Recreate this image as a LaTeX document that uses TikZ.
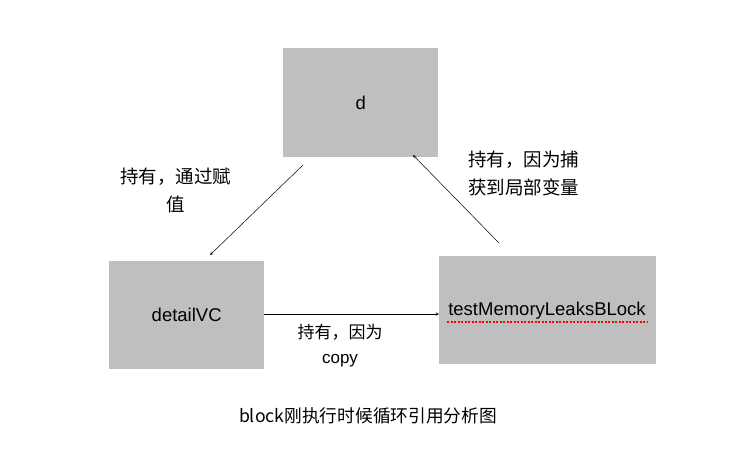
\documentclass[tikz,border=0pt]{standalone}
\usepackage{fontspec}
\setmainfont{Liberation Sans}
\newfontfamily\cjk{Noto Sans CJK SC}
\begin{document}
\begin{tikzpicture}[x=1pt,y=-1pt,
  box/.style={fill=boxgray,draw=none,inner sep=0,anchor=north west},
  lbl/.style={font=\fontsize{18.5}{28}\selectfont\cjk,align=left,inner sep=0},
  arr/.style={-stealth,line width=0.5pt}]
\definecolor{boxgray}{HTML}{BFBFBF}
\useasboundingbox[fill=white] (0,0) rectangle (733,450);
\node[box,minimum width=155,minimum height=109] (d) at (283,48) {};
\node[box,minimum width=155,minimum height=108] (v) at (109,261) {};
\node[box,minimum width=217,minimum height=108] (t) at (439,256) {};
\node[font=\fontsize{18.5}{22}\selectfont] (dl) at (d.center) {d};
\node[font=\fontsize{18.5}{22}\selectfont] (vl) at (v.center) {detailVC};
\node[font=\fontsize{18.5}{22}\selectfont] (tl) at (547,311) {testMemoryLeaksBLock};
\coordinate (u1) at (447,322); \coordinate (u2) at (648,322);
\draw[red,line width=1.2pt,dash pattern=on 2pt off 1.5pt] (u1) -- (u2);
\coordinate (a1) at (303,165); \coordinate (a2) at (210,255);
\draw[arr] (a1) -- (a2);
\coordinate (b1) at (264,314); \coordinate (b2) at (439,314);
\draw[arr] (b1) -- (b2);
\coordinate (c1) at (499,243); \coordinate (c2) at (413,155);
\draw[arr] (c1) -- (c2);
\node[lbl,anchor=north west] (l1) at (120,168) {持有，通过赋\\\hspace{46pt}值};
\node[lbl,anchor=north west] (l2) at (468,151) {持有，因为捕\\获到局部变量};
\node[lbl,font=\fontsize{17}{25}\selectfont\cjk,align=center,anchor=north] (l3) at (340,324) {持有，因为\\{\rmfamily copy}};
\node[font=\fontsize{17.7}{20}\selectfont\cjk] (cap) at (368,416) {block刚执行时候循环引用分析图};
\end{tikzpicture}
\end{document}
